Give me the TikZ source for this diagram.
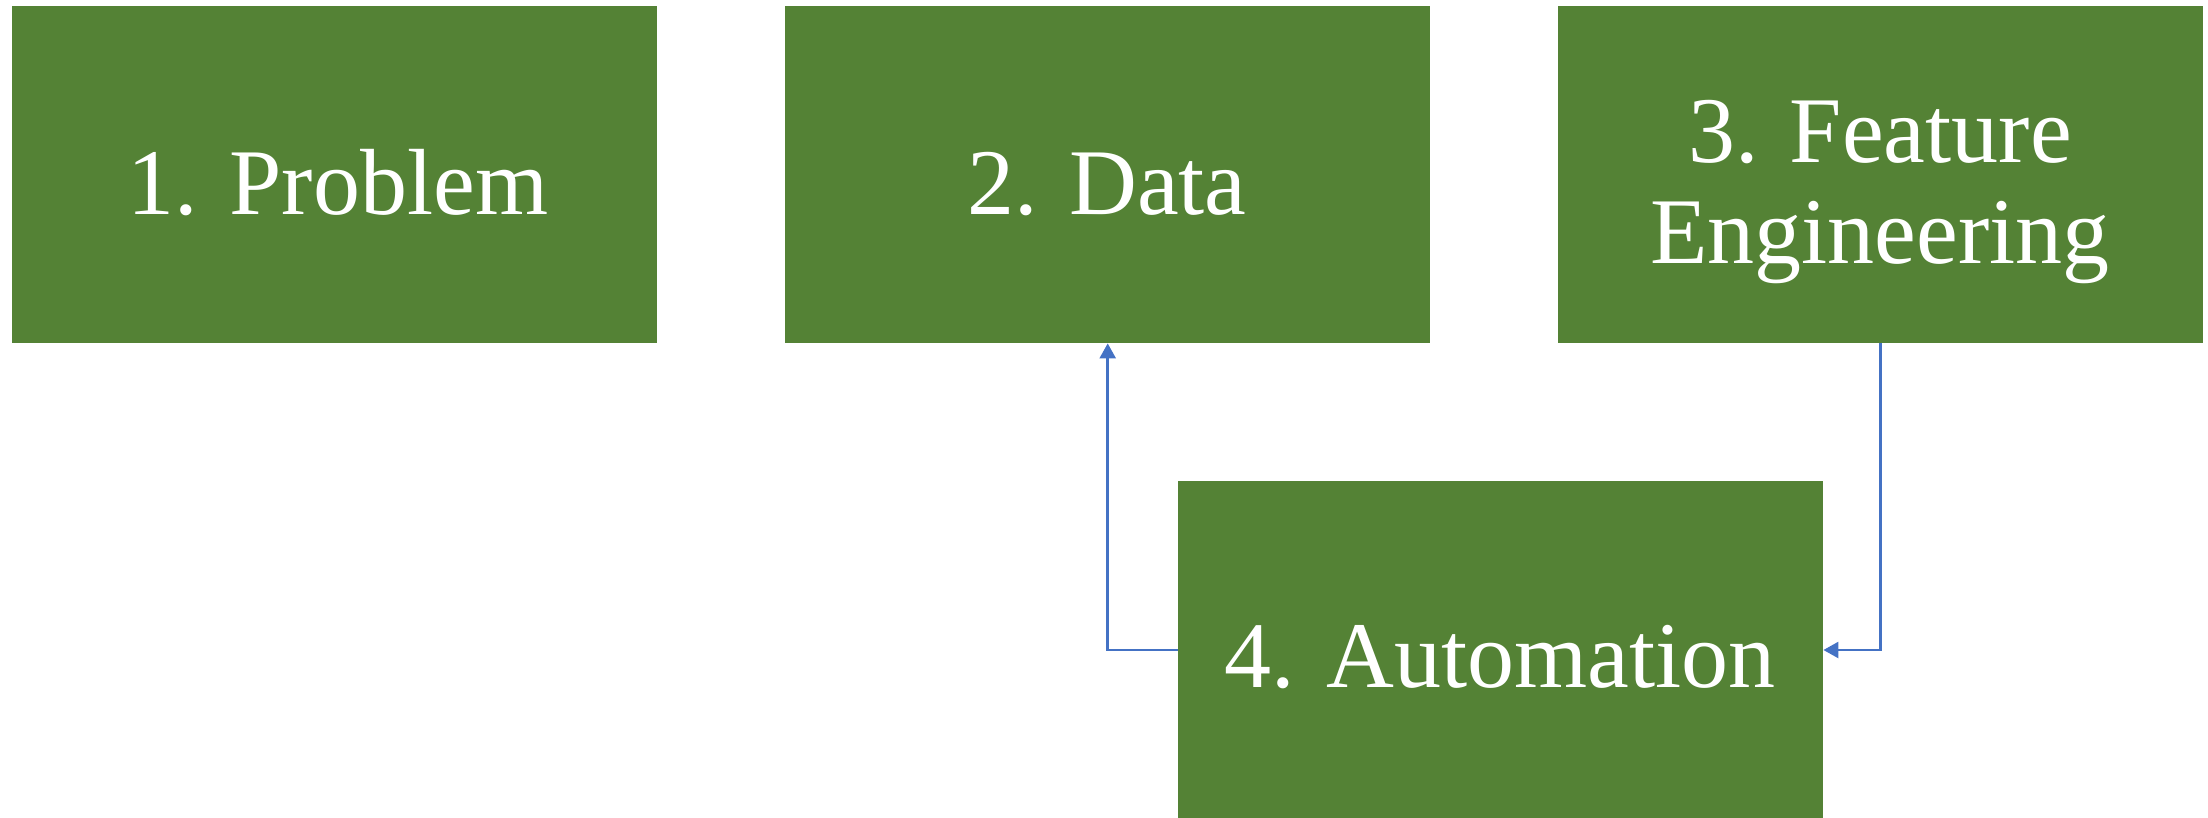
\documentclass[tikz,border=0pt]{standalone}
\usepackage{fontspec}
\setmainfont{Liberation Serif}
\usetikzlibrary{arrows.meta}
\definecolor{boxgreen}{HTML}{548235}
\definecolor{linkblue}{HTML}{4472C4}
\tikzset{
  box/.style={fill=boxgreen, draw=none, minimum width=645pt, minimum height=337pt, inner sep=0pt, anchor=north west},
  lbl/.style={text=white, font=\fontsize{94}{101}\selectfont, anchor=base, inner sep=0pt, align=center},
  link/.style={draw=linkblue, line width=2.5pt, -{Triangle[width=16pt,length=15pt]}}
}
\begin{document}
\begin{tikzpicture}[x=1pt,y=-1pt]
\useasboundingbox (0,0) rectangle (2208,817);
\node[box] (b1) at (12,6) {};
\node[box] (b2) at (785,6) {};
\node[box] (b3) at (1558,6) {};
\node[box, minimum height=340pt] (b4) at (1178,481) {};
\node[lbl] (t1) at (338,214) {1. Problem};
\node[lbl] (t2) at (1107,214) {2. Data};
\node[lbl] (t3a) at (1880,162) {3. Feature};
\node[lbl] (t3b) at (1880,263) {Engineering};
\node[lbl] (t4) at (1500,687) {4. Automation};
\draw[link] (b4.west |- 0,650) -| (b2.south);
\draw[link] (b3.south) |- (b4.east |- 0,650);
\end{tikzpicture}
\end{document}
